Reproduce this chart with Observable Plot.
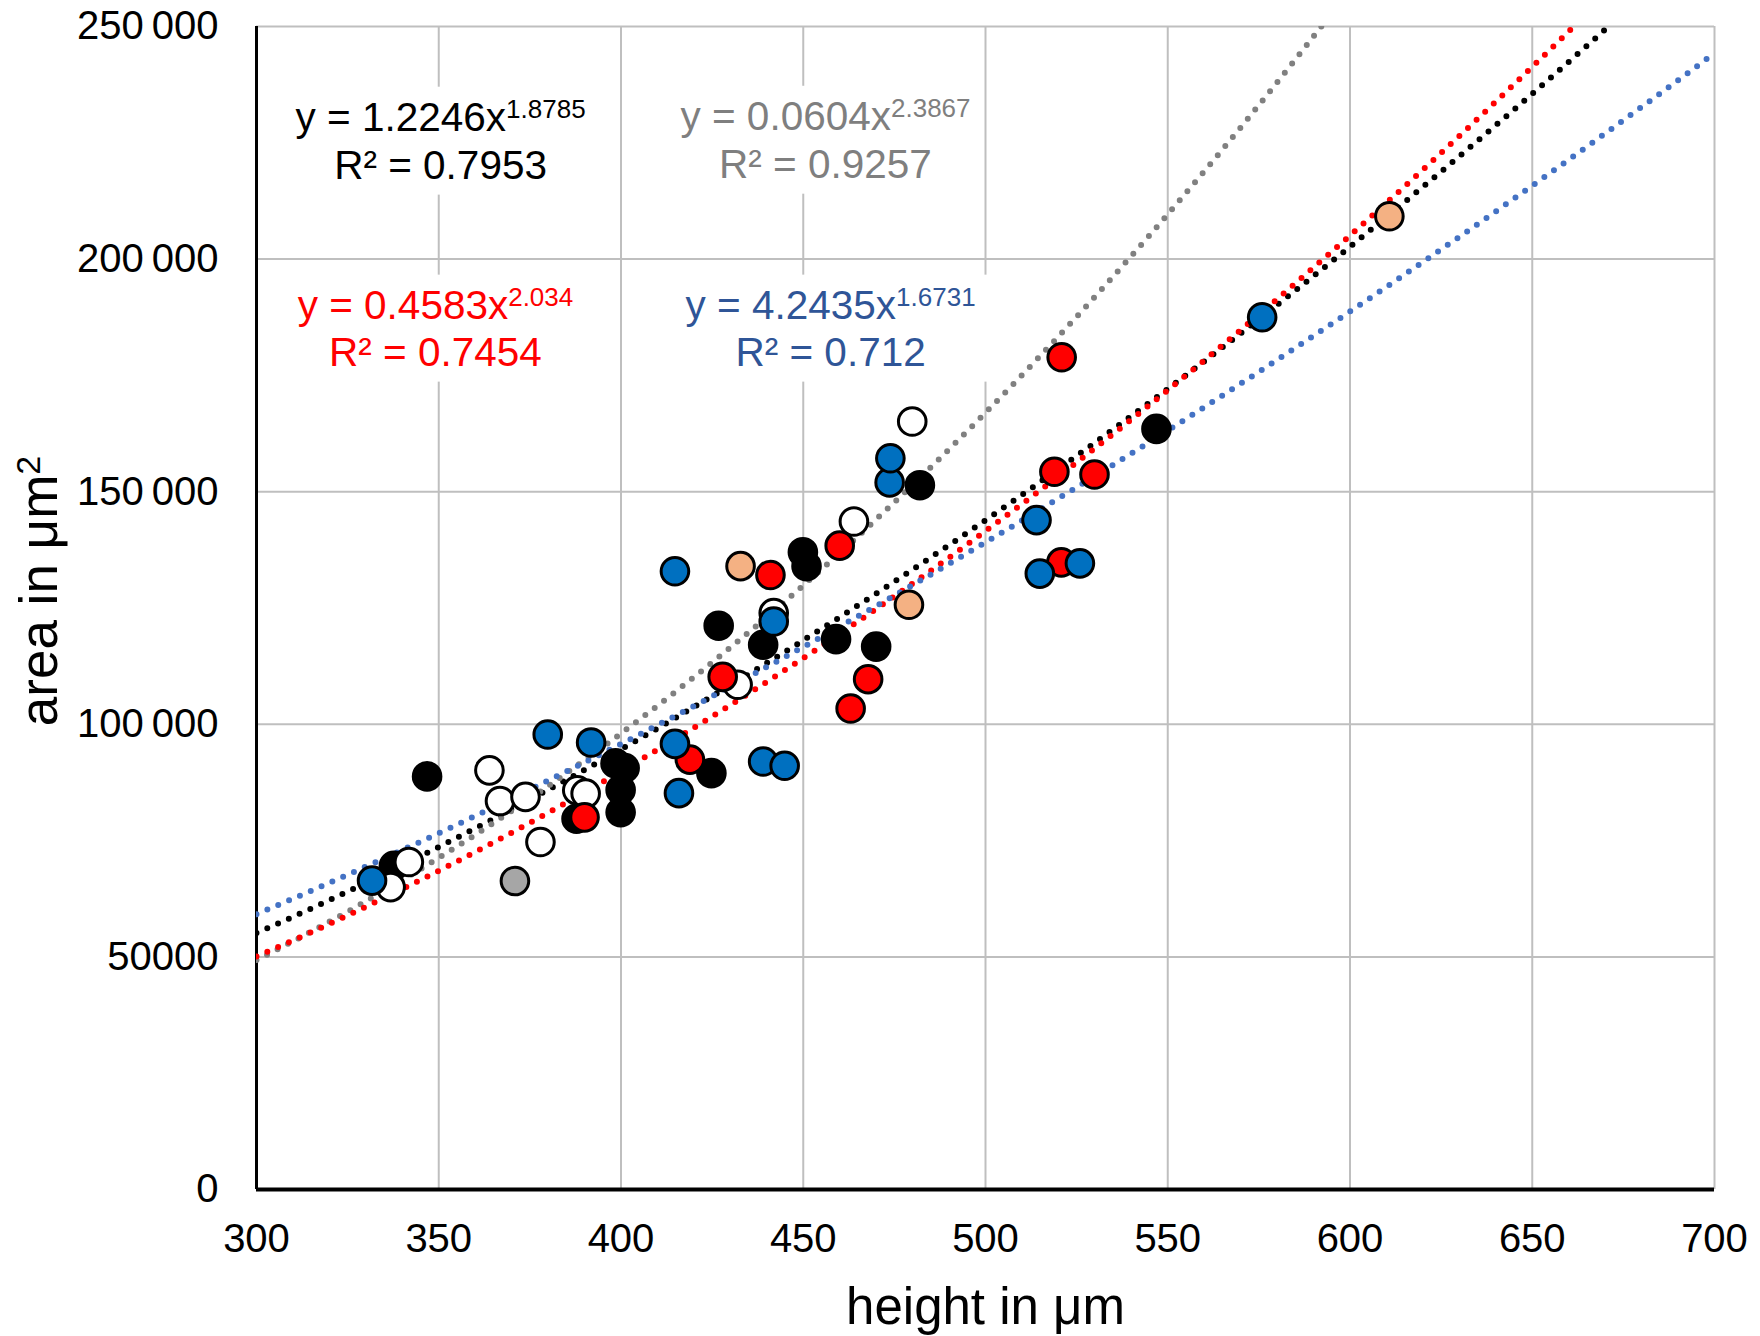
<!DOCTYPE html>
<html>
<head>
<meta charset="utf-8">
<script src="https://cdn.jsdelivr.net/npm/d3@7"></script>
<script src="https://cdn.jsdelivr.net/npm/@observablehq/plot@0.6"></script>
<style>
  html, body { margin: 0; padding: 0; background: #ffffff; overflow: hidden; }
  #chart svg { display: block; }
</style>
</head>
<body>
<div id="chart"></div>
<script>
// ---------- tick values & labels ----------
const xTicks = [300, 350, 400, 450, 500, 550, 600, 650, 700];
const xTickLabels = ["300", "350", "400", "450", "500", "550", "600", "650", "700"];
const yTicks = [0, 50000, 100000, 150000, 200000, 250000];
const yTickLabels = ["0", "50000", "100\u2009000", "150\u2009000", "200\u2009000", "250\u2009000"];

// ---------- measured points: [height in µm, area in µm²] ----------
const blackPts = [
  [337.7, 69600], [346.8, 88800], [387.8, 79700], [398.5, 91600], [401.0, 90600],
  [399.9, 85900], [399.9, 81100], [424.8, 89500], [426.8, 121200], [439.0, 117100],
  [449.9, 137000], [450.9, 134000], [459.0, 118300], [470.0, 116700], [482.0, 151400],
  [546.9, 163500]
];
const whitePts = [
  [336.8, 65000], [341.8, 70400], [363.9, 90100], [366.8, 83500], [373.8, 84400],
  [377.9, 74700], [388.0, 85800], [390.3, 85100], [432.0, 108500], [441.9, 123900],
  [463.9, 143600], [479.9, 165100]
];
const grayPts = [[370.9, 66300]];
const peachPts = [[432.8, 134000], [479.0, 125700], [610.8, 209200]];
const redPts = [
  [390.0, 80000], [418.9, 92400], [427.9, 110200], [441.0, 132100], [460.0, 138400],
  [463.0, 103400], [467.8, 109700], [518.9, 154300], [520.9, 178900], [520.8, 134800],
  [529.9, 153700]
];
const bluePts = [
  [331.7, 66400], [379.9, 97800], [391.8, 96100], [414.8, 95800], [415.9, 85200],
  [414.8, 132900], [439.0, 92000], [444.9, 91100], [441.9, 122100], [473.7, 152000],
  [473.9, 157200], [514.0, 143900], [514.9, 132400], [525.9, 134600], [575.9, 187500]
];

// ---------- power trendlines shown on the chart: y = a·x^b ----------
const fitNames = ["black", "gray", "red", "blue"];
const fitA = ["1.2246", "0.0604", "0.4583", "4.2435"];
const fitB = ["1.8785", "2.3867", "2.034", "1.6731"];
const fitR2 = ["0.7953", "0.9257", "0.7454", "0.712"];
// label anchors in data units (centre x, baseline y of line 1 and line 2)
const fitLabelX = [350.5, 456.1, 349.1, 457.5];
const fitLabelY1 = [227600, 227800, 187200, 187200];
const fitLabelY2 = [217300, 217500, 177100, 177100];

// ---------- styles ----------
const FONT = "'Liberation Sans', Arial, Helvetica, sans-serif";
const lineColors = ["#000000", "#808080", "#FF0000", "#4472C4"];
const textColors = ["#000000", "#7F7F7F", "#FF0000", "#2F5597"];
const groups = [
  {pts: blackPts, fill: "#000000"},
  {pts: whitePts, fill: "#FFFFFF"},
  {pts: grayPts,  fill: "#A6A6A6"},
  {pts: peachPts, fill: "#F4B183"},
  {pts: redPts,   fill: "#FF0000"},
  {pts: bluePts,  fill: "#0070C0"}
];

const trendX = d3.range(300, 700.5, 1);

const marks = [];
// gridlines
marks.push(Plot.ruleY(yTicks.filter(v => v > 0), {stroke: "#BFBFBF", strokeWidth: 2}));
marks.push(Plot.ruleX(xTicks.filter(v => v > 300), {stroke: "#BFBFBF", strokeWidth: 2}));
// axis lines
marks.push(Plot.ruleX([300], {stroke: "#000000", strokeWidth: 3}));
marks.push(Plot.ruleY([0], {stroke: "#000000", strokeWidth: 4}));
// trendlines
fitNames.forEach((n, i) => {
  const a = +fitA[i], b = +fitB[i];
  marks.push(Plot.line(trendX, {
    x: d => d, y: d => a * Math.pow(d, b),
    stroke: lineColors[i], strokeWidth: 6,
    strokeDasharray: "0 11.8", strokeLinecap: "round",
    clip: true
  }));
});
// points
groups.forEach(g => {
  marks.push(Plot.dot(g.pts, {
    x: d => d[0], y: d => d[1], r: 13.8,
    fill: g.fill, stroke: "#000000", strokeWidth: 3
  }));
});
// equation labels
fitNames.forEach((n, i) => {
  marks.push(Plot.text([0, 1], {
    x: () => fitLabelX[i],
    y: j => (j === 0 ? fitLabelY1[i] : fitLabelY2[i]),
    text: j => (j === 0 ? `y = ${fitA[i]}x^${fitB[i]}` : `R² = ${fitR2[i]}`),
    fill: textColors[i], fontSize: 40.5, textAnchor: "middle", lineAnchor: "bottom",
    ariaDescription: "fit-label-" + n
  }));
});
// axis titles
marks.push(Plot.text(["height in μm"], {
  text: d => d, frameAnchor: "bottom", textAnchor: "middle", lineAnchor: "bottom",
  dy: 134, fontSize: 51, fill: "#000000"
}));
marks.push(Plot.text(["area in μm^2"], {
  text: d => d, frameAnchor: "left", rotate: -90, textAnchor: "middle", lineAnchor: "bottom",
  dx: -200, dy: -17, fontSize: 53, fill: "#000000", ariaDescription: "y-title"
}));

const chart = Plot.plot({
  width: 1760,
  height: 1336,
  marginLeft: 256,
  marginRight: 46,
  marginTop: 26,
  marginBottom: 147,
  style: {fontFamily: FONT, fontSize: "40px", background: "#ffffff", color: "#000000"},
  x: {
    domain: [300, 700], ticks: xTicks, tickSize: 0, tickPadding: 34, label: null,
    tickFormat: d => xTickLabels[xTicks.indexOf(d)]
  },
  y: {
    domain: [0, 250000], ticks: yTicks, tickSize: 0, tickPadding: 38, label: null,
    tickFormat: d => yTickLabels[yTicks.indexOf(d)]
  },
  marks
});

document.getElementById("chart").append(chart);

// superscripts (text after "^")
d3.select(chart).selectAll("text").each(function () {
  const t = this.textContent;
  if (t.includes("^")) {
    const [base, sup] = t.split("^");
    const fs = parseFloat(this.getAttribute("font-size") || this.parentNode.getAttribute("font-size") || 40);
    this.textContent = base;
    d3.select(this).append("tspan")
      .attr("dy", -0.32 * fs)
      .attr("font-size", Math.round(fs * 0.65))
      .text(sup);
  }
});

// white boxes behind the equation labels (sized from the rendered text)
fitNames.forEach(n => {
  const g = chart.querySelector(`g[aria-description="fit-label-${n}"]`);
  if (!g) return;
  const bb = g.getBBox();
  const rect = document.createElementNS("http://www.w3.org/2000/svg", "rect");
  rect.setAttribute("x", bb.x - 12);
  rect.setAttribute("y", bb.y - 7);
  rect.setAttribute("width", bb.width + 24);
  rect.setAttribute("height", bb.height + 14);
  rect.setAttribute("fill", "#ffffff");
  g.insertBefore(rect, g.firstChild);
});
</script>
</body>
</html>
